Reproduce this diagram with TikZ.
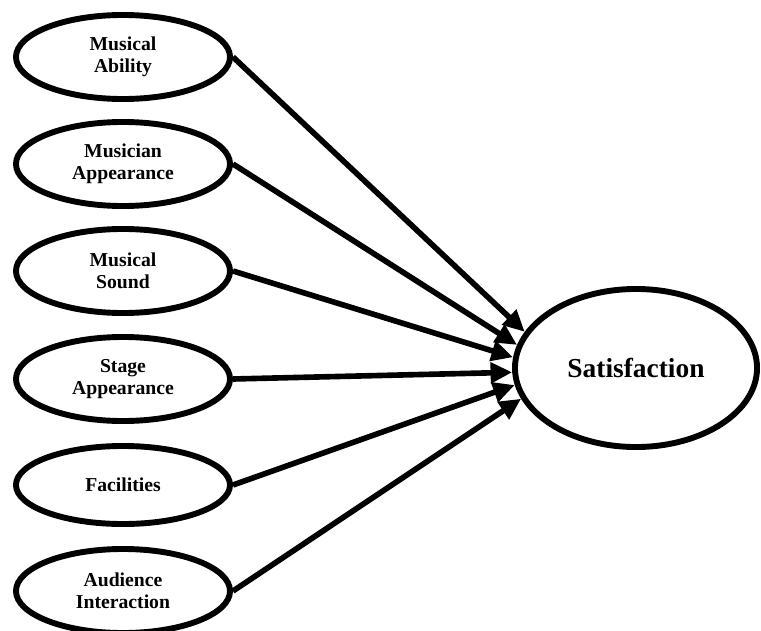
\documentclass[tikz,border=0pt]{standalone}
\usepackage{fontspec}
\setmainfont{Liberation Serif}
\usetikzlibrary{arrows.meta,shapes.geometric}

\begin{document}
\begin{tikzpicture}[x=0.025cm,y=-0.025cm,
  factor/.style={ellipse,draw,line width=4.2pt,minimum width=5.35cm,minimum height=2.1cm,
    inner sep=0pt,align=center,font=\fontsize{14}{15.5}\selectfont\bfseries},
  outcome/.style={ellipse,draw,line width=4.2pt,minimum width=6.05cm,minimum height=3.95cm,
    inner sep=0pt,font=\fontsize{19.5}{22}\selectfont\bfseries},
  link/.style={line width=4pt,-{Triangle[length=5.4mm,width=5mm]}}]
\useasboundingbox (0,0) rectangle (761,630);
\node[factor] (ability) at (123,57) {Musical\\Ability};
\node[factor] (musician) at (123,164) {Musician\\Appearance};
\node[factor] (sound) at (123,271) {Musical\\Sound};
\node[factor] (stage) at (123,379) {Stage\\Appearance};
\node[factor,minimum height=1.95cm] (facil) at (123,485) {Facilities};
\node[factor] (audience) at (123,591) {Audience\\Interaction};
\node[outcome] (satis) at (636,368) {Satisfaction};
% all factors point to satisfaction
\foreach \src/\ang in {ability/162,musician/169,sound/175,stage/182,facil/188,audience/195}
  \draw[link] (\src.east) -- (satis.\ang);
\end{tikzpicture}
\end{document}
